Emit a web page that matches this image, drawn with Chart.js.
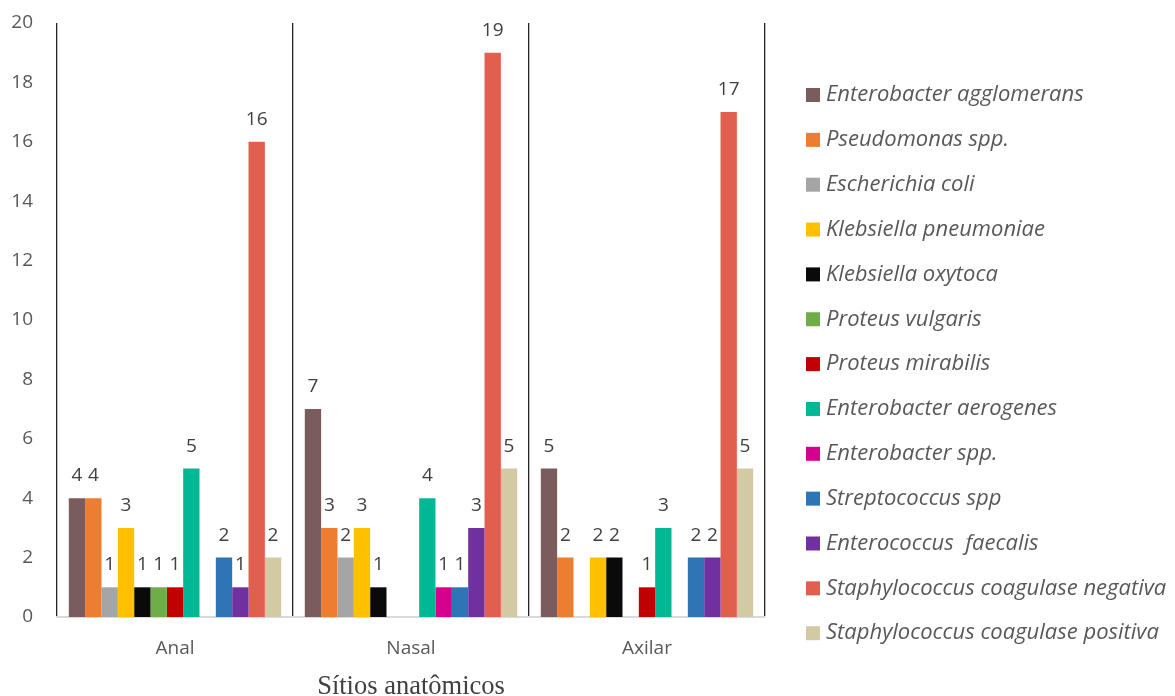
<!DOCTYPE html>
<html>
<head>
<meta charset="utf-8">
<script src="https://cdn.jsdelivr.net/npm/chart.js@4/dist/chart.umd.min.js"></script>
<style>
  html, body { margin: 0; padding: 0; background: #ffffff; }
  #wrap { position: relative; width: 1175px; height: 696px; }
</style>
</head>
<body>
<div id="wrap"><canvas id="c" width="1175" height="696"></canvas></div>
<script>
// Anatomical sites (categories)
const sites = ['Anal', 'Nasal', 'Axilar'];

// Isolated organisms, counts per site (Anal, Nasal, Axilar)
const enterobacterAgglomerans = [4, 7, 5];
const pseudomonasSpp          = [4, 3, 2];
const escherichiaColi         = [1, 2, 0];
const klebsiellaPneumoniae    = [3, 3, 2];
const klebsiellaOxytoca       = [1, 1, 2];
const proteusVulgaris         = [1, 0, 0];
const proteusMirabilis        = [1, 0, 1];
const enterobacterAerogenes   = [5, 4, 3];
const enterobacterSpp         = [0, 1, 0];
const streptococcusSpp        = [2, 1, 2];
const enterococcusFaecalis    = [1, 3, 2];
const staphCoagNegativa       = [16, 19, 17];
const staphCoagPositiva       = [2, 5, 5];

// Y axis ticks
const yTicks = [0, 2, 4, 6, 8, 10, 12, 14, 16, 18, 20];

const seriesNames = [
  'Enterobacter agglomerans', 'Pseudomonas spp.', 'Escherichia coli',
  'Klebsiella pneumoniae', 'Klebsiella oxytoca', 'Proteus vulgaris',
  'Proteus mirabilis', 'Enterobacter aerogenes', 'Enterobacter spp.',
  'Streptococcus spp', 'Enterococcus  faecalis',
  'Staphylococcus coagulase negativa', 'Staphylococcus coagulase positiva'
];
const seriesValues = [
  enterobacterAgglomerans, pseudomonasSpp, escherichiaColi,
  klebsiellaPneumoniae, klebsiellaOxytoca, proteusVulgaris,
  proteusMirabilis, enterobacterAerogenes, enterobacterSpp,
  streptococcusSpp, enterococcusFaecalis, staphCoagNegativa, staphCoagPositiva
];
const seriesColors = [
  '#7b5c5c', '#ed7d31', '#a5a5a5', '#ffc000', '#0a0a0a', '#70ad47',
  '#c00000', '#00b894', '#d6008f', '#2e75b6', '#7030a0', '#e15f4e', '#d3c9a3'
];

const SANS = '"Open Sans", Lato, sans-serif';

// Value labels above each non-zero bar
const valueLabels = {
  id: 'valueLabels',
  afterDatasetsDraw(chart) {
    const ctx = chart.ctx;
    ctx.save();
    ctx.font = '19px ' + SANS;
    ctx.fillStyle = '#404040';
    ctx.textAlign = 'center';
    ctx.textBaseline = 'alphabetic';
    chart.data.datasets.forEach((ds, i) => {
      const meta = chart.getDatasetMeta(i);
      meta.data.forEach((bar, j) => {
        const v = ds.data[j];
        if (!v) return;
        ctx.fillText(String(v), bar.x, bar.y - 17);
      });
    });
    ctx.restore();
  }
};

// Vertical legend on the right side
const sideLegend = {
  id: 'sideLegend',
  afterDraw(chart) {
    const ctx = chart.ctx;
    ctx.save();
    ctx.font = 'italic 22px ' + SANS;
    ctx.textBaseline = 'middle';
    ctx.textAlign = 'left';
    chart.data.datasets.forEach((ds, i) => {
      const y = 95 + i * 44.85;
      ctx.fillStyle = ds.backgroundColor;
      ctx.fillRect(806, y - 7, 14, 14);
      ctx.fillStyle = '#595959';
      ctx.fillText(ds.label, 826, y);
    });
    ctx.restore();
  }
};

new Chart(document.getElementById('c'), {
  type: 'bar',
  data: {
    labels: sites,
    datasets: seriesNames.map((name, i) => ({
      label: name,
      data: seriesValues[i],
      backgroundColor: seriesColors[i],
      borderWidth: 0,
      categoryPercentage: 0.9,
      barPercentage: 1.0
    }))
  },
  options: {
    responsive: false,
    animation: false,
    devicePixelRatio: 1,
    layout: { padding: { top: 23, right: 410, bottom: 0, left: 0 } },
    plugins: {
      legend: { display: false },
      tooltip: { enabled: false }
    },
    scales: {
      x: {
        afterFit(axis) { axis.height = 79; axis.paddingLeft = 0; axis.paddingRight = 0; },
        grid: {
          display: true,
          offset: true,
          color: '#262626',
          lineWidth: 1.3,
          drawTicks: false
        },
        border: { display: true, color: '#d9d9d9', width: 2 },
        ticks: {
          color: '#595959',
          font: { family: SANS, size: 19 },
          padding: 20
        },
        title: {
          display: true,
          text: 'Sítios anatômicos',
          color: '#404040',
          font: { family: '"Liberation Serif", "Times New Roman", serif', size: 26.5 },
          padding: { top: 0, bottom: -7 }
        }
      },
      y: {
        min: 0,
        max: 20,
        afterFit(axis) { axis.width = 57; axis.paddingTop = 0; axis.paddingBottom = 0; },
        afterBuildTicks(axis) { axis.ticks = yTicks.map(v => ({ value: v })); },
        grid: { display: false, drawTicks: false },
        border: { display: false },
        ticks: {
          color: '#595959',
          font: { family: SANS, size: 19 },
          padding: 24
        }
      }
    }
  },
  plugins: [valueLabels, sideLegend]
});
</script>
</body>
</html>
